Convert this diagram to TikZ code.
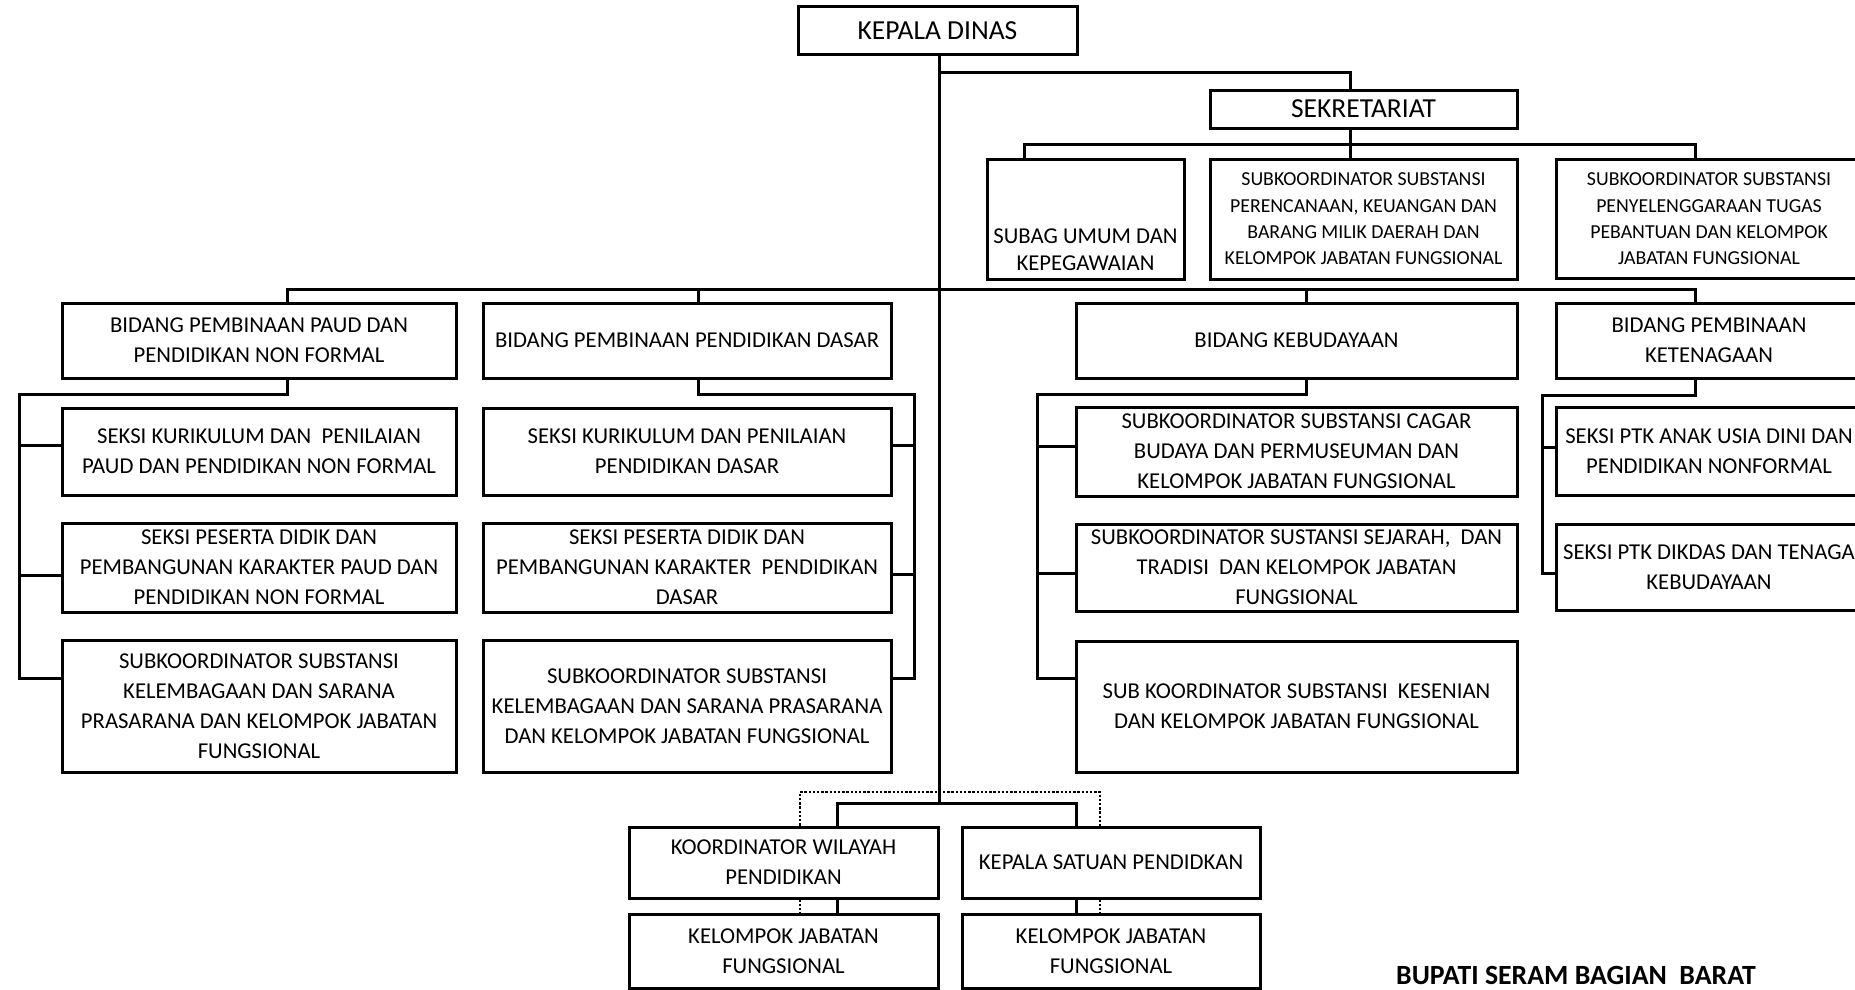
\documentclass[tikz,border=0pt]{standalone}
\usepackage{fontspec}
\setmainfont{Carlito}
\begin{document}
\begin{tikzpicture}[x=1pt,y=-1pt,
  box/.style={draw, line width=3pt, inner sep=0pt, align=center,
              font=\fontsize{22.7}{30}\selectfont},
  small/.style={font=\fontsize{19.8}{26.3}\selectfont},
  big/.style={font=\fontsize{27.5}{33}\selectfont},
  wire/.style={line width=3pt},
  dotwire/.style={line width=2.6pt, dash pattern=on 2.4pt off 1.8pt}
]
\useasboundingbox (0,0) rectangle (1855,990);
\clip (0,0) rectangle (1855,990);

% ---- head and secretariat
\node[box, big, minimum width=279, minimum height=48] (kd) at (937.5,31) {KEPALA DINAS};
\node[box, big, minimum width=307, minimum height=38] (sek) at (1363.5,109) {SEKRETARIAT};
\node[box, minimum width=197, minimum height=120] (subag) at (1085.5,219) {};
\node[box, draw=none, font=\fontsize{22.7}{27}\selectfont] (subagtxt) at ([yshift=-30.5pt]subag.center) {SUBAG UMUM DAN\\KEPEGAWAIAN};
\node[box, small, minimum width=307, minimum height=120] (renc) at (1363.5,219)
  {SUBKOORDINATOR SUBSTANSI\\PERENCANAAN, KEUANGAN DAN\\BARANG MILIK DAERAH DAN\\KELOMPOK JABATAN FUNGSIONAL};
\node[box, small, minimum width=306, minimum height=119] (tugas) at (1709,219)
  {SUBKOORDINATOR SUBSTANSI\\PENYELENGGARAAN TUGAS\\PEBANTUAN DAN KELOMPOK\\JABATAN FUNGSIONAL};

% ---- fields
\node[box, minimum width=394, minimum height=75] (bpaud) at (259,340.5) {BIDANG PEMBINAAN PAUD DAN\\PENDIDIKAN NON FORMAL};
\node[box, minimum width=408, minimum height=75] (bdas) at (687,340.5) {BIDANG PEMBINAAN PENDIDIKAN DASAR};
\node[box, minimum width=441, minimum height=75] (bbud) at (1296.5,340.5) {BIDANG KEBUDAYAAN};
\node[box, minimum width=306, minimum height=75] (bten) at (1709,340.5) {BIDANG PEMBINAAN\\KETENAGAAN};

% ---- PAUD sections
\node[box, minimum width=394, minimum height=87] (p1) at (259,451.5) {SEKSI KURIKULUM DAN\ \ PENILAIAN\\PAUD DAN PENDIDIKAN NON FORMAL};
\node[box, minimum width=394, minimum height=89] (p2) at (259,567.5) {SEKSI PESERTA DIDIK DAN\\PEMBANGUNAN KARAKTER PAUD DAN\\PENDIDIKAN NON FORMAL};
\node[box, minimum width=394, minimum height=132] (p3) at (259,706) {SUBKOORDINATOR SUBSTANSI\\KELEMBAGAAN DAN SARANA\\PRASARANA DAN KELOMPOK JABATAN\\FUNGSIONAL};

% ---- basic education sections
\node[box, minimum width=408, minimum height=87] (d1) at (687,451.5) {SEKSI KURIKULUM DAN PENILAIAN\\PENDIDIKAN DASAR};
\node[box, minimum width=408, minimum height=89] (d2) at (687,567.5) {SEKSI PESERTA DIDIK DAN\\PEMBANGUNAN KARAKTER\ \ PENDIDIKAN\\DASAR};
\node[box, minimum width=408, minimum height=132] (d3) at (687,706) {SUBKOORDINATOR SUBSTANSI\\KELEMBAGAAN DAN SARANA PRASARANA\\DAN KELOMPOK JABATAN FUNGSIONAL};

% ---- culture sections
\node[box, minimum width=441, minimum height=89] (c1) at (1296.5,451.5) {SUBKOORDINATOR SUBSTANSI CAGAR\\BUDAYA DAN PERMUSEUMAN DAN\\KELOMPOK JABATAN FUNGSIONAL};
\node[box, minimum width=441, minimum height=87] (c2) at (1296.5,567.5) {SUBKOORDINATOR SUSTANSI SEJARAH,\ \ DAN\\TRADISI\ \ DAN KELOMPOK JABATAN\\FUNGSIONAL};
\node[box, minimum width=441, minimum height=131] (c3) at (1296.5,706.5) {SUB KOORDINATOR SUBSTANSI\ \ KESENIAN\\DAN KELOMPOK JABATAN FUNGSIONAL};

% ---- staffing sections
\node[box, minimum width=306, minimum height=88] (t1) at (1709,451) {SEKSI PTK ANAK USIA DINI DAN\\PENDIDIKAN NONFORMAL};
\node[box, minimum width=306, minimum height=86] (t2) at (1709,567) {SEKSI PTK DIKDAS DAN TENAGA\\KEBUDAYAAN};

% ---- regional units
\node[box, minimum width=309, minimum height=71] (kw) at (783.5,862.5) {KOORDINATOR WILAYAH\\PENDIDIKAN};
\node[box, minimum width=298, minimum height=71] (ks) at (1111,862.5) {KEPALA SATUAN PENDIDKAN};
\node[box, minimum width=309, minimum height=74] (kj1) at (783.5,951) {KELOMPOK JABATAN\\FUNGSIONAL};
\node[box, minimum width=298, minimum height=74] (kj2) at (1111,951) {KELOMPOK JABATAN\\FUNGSIONAL};

\node[anchor=base west, inner sep=0pt, font=\fontsize{27.8}{33}\selectfont\bfseries] (bupati) at (1396,984) {BUPATI SERAM BAGIAN\ \ BARAT};

% ---- connectors: spine and secretariat
\coordinate (spine) at (939,803);
\coordinate (jsek) at (1350,73);
\coordinate (sbus) at (1350,144);
\coordinate (sbL) at (1024,144);
\coordinate (sbR) at (1695,144);
\draw[wire] (kd.south -| spine) -- (spine);
\draw[wire] (spine |- jsek) -- (jsek) -- (jsek |- sek.north);
\draw[wire] (sbus |- sek.south) -- (sbus) -- (sbus |- renc.north);
\draw[wire] (sbL |- subag.north) -- (sbL) -- (sbR) -- (sbR |- tugas.north);

% ---- main bus to the fields
\coordinate (mL) at (287,289);
\coordinate (mD) at (698,289);
\coordinate (mB) at (1306,289);
\coordinate (mR) at (1695,289);
\draw[wire] (mL |- bpaud.north) -- (mL) -- (mR) -- (mR |- bten.north);
\draw[wire] (mD) -- (mD |- bdas.north);
\draw[wire] (mB) -- (mB |- bbud.north);

% ---- PAUD branch
\coordinate (pT) at (19,394);
\draw[wire] (bpaud.south -| mL) -- (mL |- pT) -- (pT) -- (19,678) -- (p3.west |- 0,678);
\draw[wire] (19,445) -- (p1.west |- 0,445);
\draw[wire] (19,575) -- (p2.west |- 0,575);

% ---- basic education branch
\coordinate (dT) at (914,394);
\draw[wire] (bdas.south -| mD) -- (mD |- dT) -- (dT) -- (914,678) -- (d3.east |- 0,678);
\draw[wire] (914,445) -- (d1.east |- 0,445);
\draw[wire] (914,574) -- (d2.east |- 0,574);

% ---- culture branch
\coordinate (cT) at (1037,394);
\draw[wire] (bbud.south -| mB) -- (mB |- cT) -- (cT) -- (1037,678) -- (c3.west |- 0,678);
\draw[wire] (1037,446) -- (c1.west |- 0,446);
\draw[wire] (1037,573) -- (c2.west |- 0,573);

% ---- staffing branch
\coordinate (tT) at (1542,395);
\draw[wire] (bten.south -| mR) -- (mR |- tT) -- (tT) -- (1542,573) -- (t2.west |- 0,573);
\draw[wire] (1542,447) -- (t1.west |- 0,447);

% ---- regional units
\draw[wire] (kw.north -| 837,0) -- (837,803) -- (1076,803) -- (ks.north -| 1076,0);
\draw[wire] (kw.south -| 837,0) -- (kj1.north -| 837,0);
\draw[wire] (ks.south -| 1076,0) -- (kj2.north -| 1076,0);
\draw[dotwire] (kw.north -| 800,0) -- (800,792) -- (1100,792) -- (ks.north -| 1100,0);
\draw[dotwire] (kw.south -| 800,0) -- (kj1.north -| 800,0);
\draw[dotwire] (ks.south -| 1100,0) -- (kj2.north -| 1100,0);
\end{tikzpicture}
\end{document}
